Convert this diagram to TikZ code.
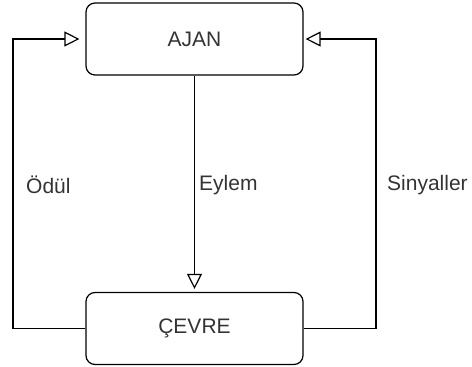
\documentclass[tikz,border=0pt]{standalone}
\usepackage{fontspec}
\setmainfont{Liberation Sans}
\usetikzlibrary{arrows.meta}
\definecolor{txt}{HTML}{333333}
\begin{document}
\begin{tikzpicture}[x=1pt,y=-1pt,
  box/.style={draw=black,line width=1.2pt,rounded corners=9pt,minimum width=217pt,minimum height=72pt,inner sep=0pt,font=\fontsize{21}{24}\selectfont,text=txt},
  conn/.style={draw=black,line width=1.2pt,-{Triangle[open,length=15pt,width=15pt]}},
  lbl/.style={font=\fontsize{21}{24}\selectfont,text=txt,anchor=west,inner sep=0pt}]
\useasboundingbox (0,0) rectangle (472,367);
\node[box] (ajan) at (194.5,39) {AJAN};
\node[box] (cevre) at (194.5,328.5) {ÇEVRE};
\coordinate (l1) at (13,328.5);
\coordinate (l2) at (13,39);
\coordinate (r1) at (376,328.5);
\coordinate (r2) at (376,39);
\draw[conn,shorten >=6pt] (cevre.west) -- (l1) -- (l2) -- (ajan.west);
\draw[conn,shorten >=2pt] (cevre.east) -- (r1) -- (r2) -- (ajan.east);
\draw[conn,shorten >=3pt] (ajan.south) -- (cevre.north);
\node[lbl] (odul) at (26,185) {Ödül};
\node[lbl] (eylem) at (199,185) {Eylem};
\node[lbl] (sinyal) at (387,185) {Sinyaller};
\end{tikzpicture}
\end{document}
